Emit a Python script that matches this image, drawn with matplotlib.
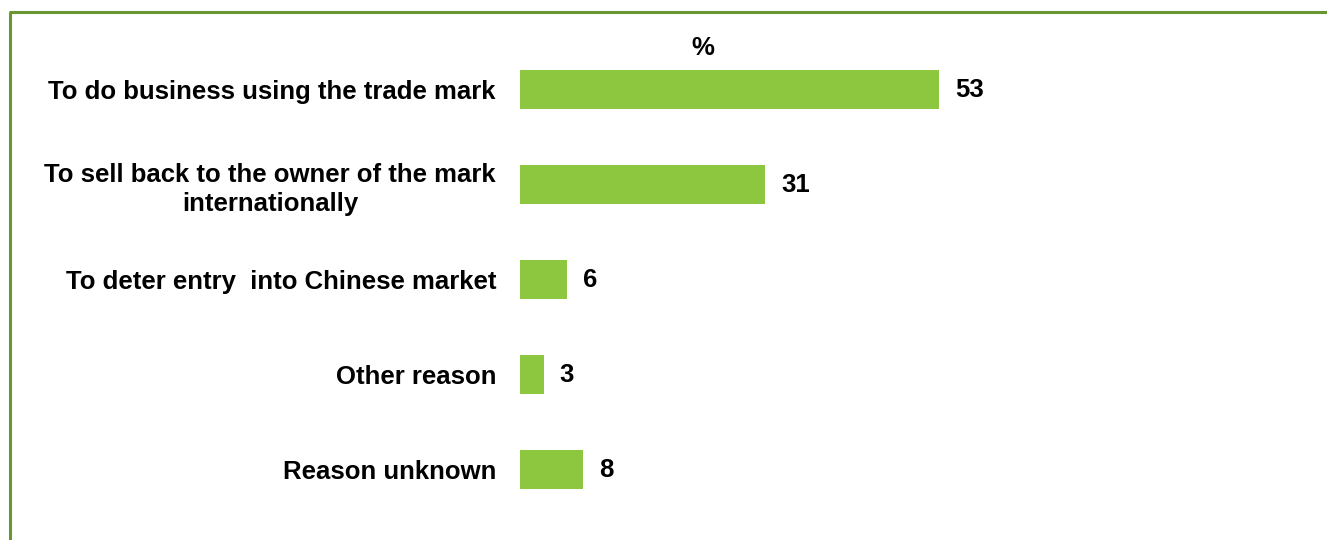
import matplotlib
matplotlib.use("Agg")
import matplotlib.pyplot as plt
from matplotlib.lines import Line2D

categories = [
    "To do business using the trade mark",
    "To sell back to the owner of the mark\ninternationally",
    "To deter entry  into Chinese market",
    "Other reason",
    "Reason unknown",
]
values = [53, 31, 6, 3, 8]
unit_label = "%"

W, H = 1327, 540
plt.rcParams['font.family'] = ['Liberation Sans', 'DejaVu Sans']
fig = plt.figure(figsize=(W / 100, H / 100), dpi=100)

FS = 18.5
ax_left, ax_right = 520, 1300
ax_top, ax_bot = 42, 517.5
ax = fig.add_axes([ax_left / W, 1 - ax_bot / H, (ax_right - ax_left) / W, (ax_bot - ax_top) / H])
px_per_unit = (939 - 520) / 53
ax.set_xlim(0, (ax_right - ax_left) / px_per_unit)
ax.set_ylim(len(values) - 0.5, -0.5)

bar_color = "#8DC63F"
ypos = list(range(len(values)))
ax.barh(ypos, values, height=0.41, color=bar_color, edgecolor="none")

for y, v in zip(ypos, values):
    ax.annotate(str(v), (v, y), xytext=(16 * 0.72, 0), textcoords="offset points",
                ha="left", va="center", fontsize=FS, fontweight="bold", color="black")

ax.set_yticks(ypos)
ax.set_yticklabels(categories, fontsize=FS, fontweight="bold", multialignment="center", linespacing=1.25)
ax.tick_params(axis="y", length=0, pad=24 * 0.72)
ax.set_xticks([])
for s in ax.spines.values():
    s.set_visible(False)

fig.text(703 / W, 1 - 48 / H, unit_label, ha="center", va="center", fontsize=FS, fontweight="bold")

border = "#6A9631"
fig.add_artist(Line2D([10 / W, 10 / W], [0, 1 - 12 / H], transform=fig.transFigure, color=border, lw=2.2, solid_capstyle="butt"))
fig.add_artist(Line2D([9 / W, 1], [1 - 12 / H, 1 - 12 / H], transform=fig.transFigure, color=border, lw=2.2, solid_capstyle="butt"))

fig.savefig("out.png", dpi=100)
